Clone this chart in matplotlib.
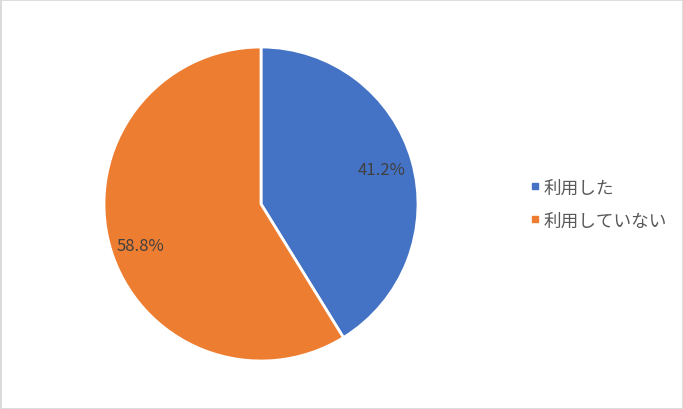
import matplotlib
matplotlib.use("Agg")
import matplotlib.pyplot as plt
from matplotlib.lines import Line2D

plt.rcParams['font.family'] = ['Noto Sans CJK JP', 'DejaVu Sans']

categories = ["利用した", "利用していない"]
values = [41.2, 58.8]
colors = ["#4472C4", "#ED7D31"]

fig = plt.figure(figsize=(6.83, 4.10), dpi=100)
# light border
fig.patches.append(plt.Rectangle((0, 0), 1, 1, transform=fig.transFigure,
                                 fill=False, edgecolor="#D9D9D9", linewidth=2))

ax = fig.add_axes([(261 - 157) / 683, (410 - 205 - 157) / 410, 314 / 683, 314 / 410])
wedges, texts, autotexts = ax.pie(values, colors=colors, startangle=90, counterclock=False,
                                  autopct="%.1f%%", pctdistance=0.8,
                                  wedgeprops=dict(edgecolor="white", linewidth=2),
                                  textprops=dict(color="#404040", fontsize=12))
ax.set_aspect("equal")
ax.set_xlim(-1, 1)
ax.set_ylim(-1, 1)
x, y = autotexts[1].get_position()
autotexts[1].set_position((x, y - 0.045))

handles = [Line2D([0], [0], marker="s", linestyle="none", markersize=5,
                  markerfacecolor=c, markeredgecolor=c) for c in colors]
fig.legend(handles, categories, loc="center left", bbox_to_anchor=(510 / 683, 1 - 205 / 410),
           frameon=False, fontsize=12.7, labelcolor="#595959", handletextpad=0.0,
           labelspacing=0.85, handlelength=1.0)

fig.savefig("out.png", dpi=100)
